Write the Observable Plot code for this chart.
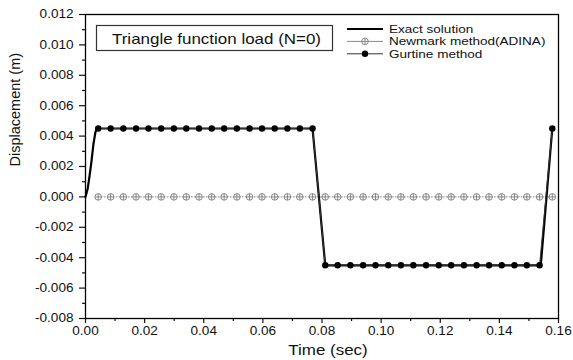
<!DOCTYPE html>
<html>
<head>
<meta charset="utf-8">
<script src="https://cdn.jsdelivr.net/npm/d3@7"></script>
<script src="https://cdn.jsdelivr.net/npm/@observablehq/plot@0.6"></script>
<style>
  body { margin: 0; background: #fff; }
  #chart { position: relative; width: 573px; height: 360px; font-family: Arial, "Liberation Sans", sans-serif; }
  #chart svg.overlay { position: absolute; left: 0; top: 0; pointer-events: none; }
  #chart text { font-weight: normal; }
</style>
</head>
<body>
<div id="chart"></div>
<script>
// Time steps (sec) of the numerical solutions
const time = [0.0043, 0.0085, 0.0128, 0.0171, 0.0213, 0.0256, 0.0299, 0.0341, 0.0384,
  0.0427, 0.0469, 0.0512, 0.0555, 0.0597, 0.0640, 0.0683, 0.0725, 0.0768,
  0.0811, 0.0853, 0.0896, 0.0939, 0.0981, 0.1024, 0.1067, 0.1109, 0.1152,
  0.1195, 0.1237, 0.1280, 0.1323, 0.1365, 0.1408, 0.1451, 0.1493, 0.1536, 0.1579];

// Gurtine method displacement (m)
const gurtine = [0.0045, 0.0045, 0.0045, 0.0045, 0.0045, 0.0045, 0.0045, 0.0045, 0.0045,
  0.0045, 0.0045, 0.0045, 0.0045, 0.0045, 0.0045, 0.0045, 0.0045, 0.0045,
  -0.0045, -0.0045, -0.0045, -0.0045, -0.0045, -0.0045, -0.0045, -0.0045, -0.0045,
  -0.0045, -0.0045, -0.0045, -0.0045, -0.0045, -0.0045, -0.0045, -0.0045, -0.0045, 0.0045];

// Newmark method (ADINA) displacement (m)
const newmark = [0, 0, 0, 0, 0, 0, 0, 0, 0, 0, 0, 0, 0, 0, 0, 0, 0, 0, 0,
  0, 0, 0, 0, 0, 0, 0, 0, 0, 0, 0, 0, 0, 0, 0, 0, 0, 0];

// Exact solution
const exactTime = [0, 0.0007, 0.00135, 0.002, 0.0027, 0.0034, 0.0041, 0.0768, 0.0811, 0.1540, 0.1579];
const exactDisp = [0, 0.0005, 0.00135, 0.0023, 0.0035, 0.0043, 0.0045, 0.0045, -0.0045, -0.0045, 0.0045];

// Axis ticks
const xTicks = [0, 0.02, 0.04, 0.06, 0.08, 0.10, 0.12, 0.14, 0.16];
const xMinorTicks = [0.01, 0.03, 0.05, 0.07, 0.09, 0.11, 0.13, 0.15];
const yTicks = [-0.008, -0.006, -0.004, -0.002, 0, 0.002, 0.004, 0.006, 0.008, 0.010, 0.012];
const yMinorTicks = [-0.007, -0.005, -0.003, -0.001, 0.001, 0.003, 0.005, 0.007, 0.009, 0.011];

const seriesNames = ["Exact solution", "Newmark method(ADINA)", "Gurtine method"];
const titleText = "Triangle function load (N=0)";
const xLabel = "Time (sec)";
const yLabel = "Displacement (m)";

const numeric = time.map((t, i) => ({t, gurtine: gurtine[i], newmark: newmark[i]}));
const exact = exactTime.map((t, i) => ({t, v: exactDisp[i]}));

// Circle with a cross through it
const circlePlus = {
  draw(context, size) {
    const r = Math.sqrt(size / Math.PI);
    context.moveTo(r, 0);
    context.arc(0, 0, r, 0, 2 * Math.PI);
    context.moveTo(-r, 0); context.lineTo(r, 0);
    context.moveTo(0, -r); context.lineTo(0, r);
  }
};

const fontFamily = "Arial, 'Liberation Sans', sans-serif";
const textWiden = 1.13;    // glyphs are drawn a little wider than the font's natural width
const legendWiden = 1.23;  // legend text is set smaller, so it is widened more

const plot = Plot.plot({
  width: 573,
  height: 360,
  marginLeft: 85,
  marginRight: 15,
  marginTop: 14,
  marginBottom: 42,
  style: {fontFamily, fontSize: "12px", color: "#111", background: "#fff", overflow: "visible"},
  x: {domain: [0, 0.16]},
  y: {domain: [-0.008, 0.012]},
  marks: [
    Plot.axisX(xTicks, {tickSize: 5, tickPadding: 3, tickFormat: d => d.toFixed(2), label: null, strokeWidth: 1.2}),
    Plot.axisX(xMinorTicks, {tickSize: 3, tickFormat: () => "", label: null, strokeWidth: 1.2}),
    Plot.axisY(yTicks, {tickSize: 6, tickPadding: 6, tickFormat: d => d.toFixed(3), label: null, strokeWidth: 1.2}),
    Plot.axisY(yMinorTicks, {tickSize: 3, tickFormat: () => "", label: null, strokeWidth: 1.2}),
    Plot.text([xLabel], {text: d => d, frameAnchor: "bottom", dx: 6, dy: 36, fontSize: 15, fill: "#111"}),
    Plot.text([yLabel], {text: d => d, frameAnchor: "left", rotate: -90, dx: -70.5, fontSize: 14.5, fill: "#111"}),
    // Newmark: dotted grey line with circle-plus markers
    Plot.line(numeric, {x: "t", y: "newmark", stroke: "#8a8a8a", strokeWidth: 1, strokeDasharray: "1,2"}),
    Plot.dot(numeric, {x: "t", y: "newmark", symbol: circlePlus, r: 3.3, stroke: "#7a7a7a", strokeWidth: 0.9, fill: "#fff"}),
    // Exact solution: thick black line
    Plot.line(exact, {x: "t", y: "v", stroke: "#000", strokeWidth: 2.2}),
    // Gurtine: thin black line with filled dots
    Plot.line(numeric, {x: "t", y: "gurtine", stroke: "#333", strokeWidth: 1}),
    Plot.dot(numeric, {x: "t", y: "gurtine", r: 3.2, fill: "#000", stroke: "none"}),
    Plot.frame({stroke: "#000", strokeWidth: 1.3})
  ]
});

const container = document.getElementById("chart");
container.appendChild(plot);

// Title box and legend drawn on top of the plot area
const overlay = d3.select(container).append("svg")
  .attr("class", "overlay")
  .attr("width", 573).attr("height", 360)
  .style("font-family", fontFamily);

const titleG = overlay.append("g");
titleG.append("rect")
  .attr("x", 96.5).attr("y", 25.5).attr("width", 236).attr("height", 25)
  .attr("fill", "#fff").attr("stroke", "#333").attr("stroke-width", 1.2);
titleG.append("text")
  .attr("x", 112).attr("y", 43.5)
  .attr("font-size", 15).attr("fill", "#111")
  .text(titleText);

const legendRows = [
  {name: seriesNames[0], stroke: "#000", width: 2, marker: null},
  {name: seriesNames[1], stroke: "#8a8a8a", width: 1, marker: "plus"},
  {name: seriesNames[2], stroke: "#333", width: 1, marker: "dot"}
];
const legend = overlay.append("g").attr("transform", "translate(347,29)");
legendRows.forEach((row, i) => {
  const g = legend.append("g").attr("transform", `translate(0,${i * 12.4})`);
  g.append("line").attr("x1", 0).attr("x2", 36).attr("y1", 0).attr("y2", 0)
    .attr("stroke", row.stroke).attr("stroke-width", row.width);
  if (row.marker === "plus") {
    g.append("path").attr("transform", "translate(18,0)")
      .attr("d", d3.symbol(circlePlus, Math.PI * 3.3 * 3.3)())
      .attr("fill", "#fff").attr("stroke", "#7a7a7a").attr("stroke-width", 0.9);
  } else if (row.marker === "dot") {
    g.append("circle").attr("cx", 18).attr("cy", 0).attr("r", 3.2).attr("fill", "#000");
  }
  g.append("text").attr("class", "legend-label")
    .attr("x", 42).attr("y", 0).attr("dy", "0.35em")
    .attr("font-size", 11).attr("fill", "#111").text(row.name);
});

// Widen every horizontal text
d3.selectAll("#chart text").each(function() {
  if (this.textContent === yLabel) return;
  const len = this.getComputedTextLength();
  if (len > 0) {
    const k = this.classList.contains("legend-label") ? legendWiden : textWiden;
    this.setAttribute("textLength", (len * k).toFixed(1));
    this.setAttribute("lengthAdjust", "spacingAndGlyphs");
  }
});
</script>
</body>
</html>
